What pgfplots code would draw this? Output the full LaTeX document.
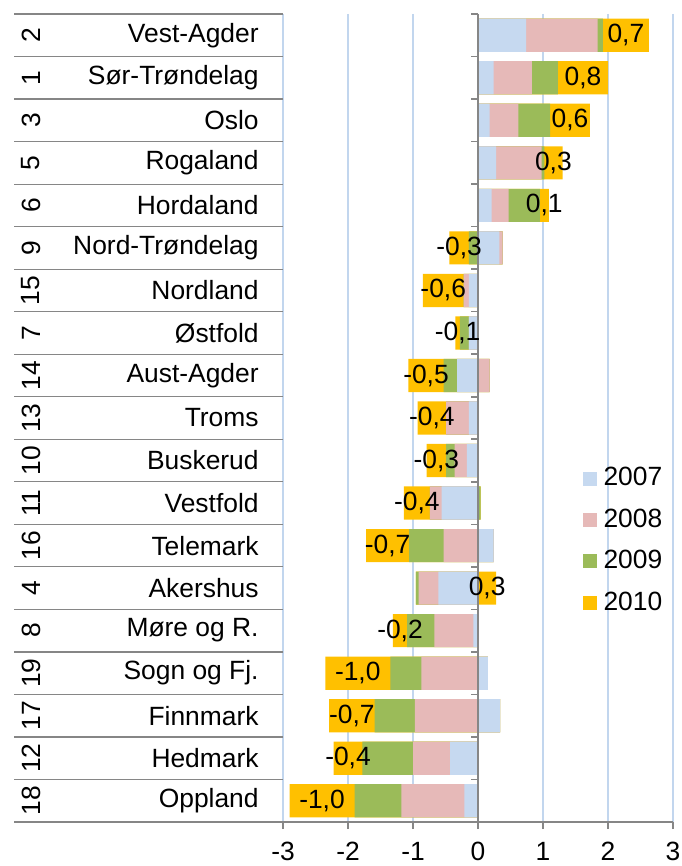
\documentclass[border=0pt]{standalone}
\usepackage{fontspec}
\setmainfont{Liberation Sans}
\usepackage{pgfplots}
\pgfplotsset{compat=1.18}
\usepackage{pgfplotstable}

\definecolor{c07}{RGB}{198,217,240}
\definecolor{c08}{RGB}{230,185,184}
\definecolor{c09}{RGB}{155,187,89}
\definecolor{c10}{RGB}{255,192,0}
\definecolor{gridblue}{RGB}{194,214,238}
\definecolor{axisgray}{RGB}{134,134,134}

% yearly change per county, top row first
\pgfplotstableread{
idx a b c d
0 0.74 1.10 0.08 0.71
1 0.24 0.59 0.40 0.77
2 0.18 0.44 0.49 0.61
3 0.28 0.70 0.04 0.28
4 0.21 0.26 0.48 0.14
5 0.33 0.05 -0.14 -0.30
6 -0.14 -0.08 0.00 -0.63
7 -0.14 0.00 -0.14 -0.07
8 -0.32 0.18 -0.21 -0.54
9 -0.14 -0.35 0.00 -0.44
10 -0.17 -0.19 -0.13 -0.30
11 -0.56 -0.18 0.04 -0.40
12 0.24 -0.53 -0.53 -0.66
13 -0.61 -0.305 -0.04 0.28
14 -0.07 -0.60 -0.42 -0.22
15 0.15 -0.87 -0.48 -1.00
16 0.34 -0.97 -0.62 -0.70
17 -0.43 -0.57 -0.78 -0.44
18 -0.21 -0.97 -0.72 -1.00
}\scores

% cumulative positive and negative stacks
\def\Pa{max(\thisrow{a},0)}
\def\Pb{\Pa+max(\thisrow{b},0)}
\def\Pc{\Pb+max(\thisrow{c},0)}
\def\Pd{\Pc+max(\thisrow{d},0)}
\def\Na{min(\thisrow{a},0)}
\def\Nb{\Na+min(\thisrow{b},0)}
\def\Nc{\Nb+min(\thisrow{c},0)}
\def\Nd{\Nc+min(\thisrow{d},0)}

\pgfplotsset{
  seg/.style={xbar, bar shift=0pt, draw=none, fill=#1},
  sq legend/.style={legend image code/.code={\fill[##1] (0pt,-3.5pt) rectangle (7pt,3.5pt);}},
}

\begin{document}
\fontsize{13.2}{15.8}\selectfont
\begin{tikzpicture}
\path[use as bounding box] (0,0) rectangle (340.5pt,433pt);
\begin{axis}[
  at={(141.5pt,22pt)}, anchor=south west,
  scale only axis, width=195pt, height=404pt,
  xmin=-3, xmax=3, ymin=-0.5, ymax=18.5, y dir=reverse,
  axis x line*=bottom, axis y line*=left,
  y axis line style={draw=none},
  x axis line style={draw=axisgray, line width=0.8pt},
  xtick={-3,...,3}, xticklabels={-3,-2,-1,0,1,2,3},
  tick align=outside, major tick length=3.5pt,
  xtick style={draw=axisgray, line width=0.8pt},
  xticklabel style={inner sep=0pt, yshift=-6.5pt},
  ytick={0,...,18},
  yticklabels={Vest-Agder,Sør-Trøndelag,Oslo,Rogaland,Hordaland,Nord-Trøndelag,Nordland,Østfold,Aust-Agder,Troms,Buskerud,Vestfold,Telemark,Akershus,Møre og R.,Sogn og Fj.,Finnmark,Hedmark,Oppland},
  ytick style={draw=none},
  yticklabel style={anchor=east, inner sep=0pt, xshift=-8.5pt},
  xmajorgrids, grid style={gridblue, line width=0.7pt},
  bar width=0.78,
  clip=false,
  reverse legend,
  legend cell align=left,
  legend style={draw=none, fill=none, at={(0.767,0.448)}, anchor=north west,
    inner sep=0pt, row sep=2.5pt, nodes={inner sep=3.5pt}},
]
\addplot[seg=c10, sq legend] table[y=idx, x expr={\Pd}]{\scores};
\addlegendentry{2010}
\addplot[seg=c10, forget plot] table[y=idx, x expr={\Nd}]{\scores};
\addplot[seg=c09, sq legend] table[y=idx, x expr={\Pc}]{\scores};
\addlegendentry{2009}
\addplot[seg=c09, forget plot] table[y=idx, x expr={\Nc}]{\scores};
\addplot[seg=c08, sq legend] table[y=idx, x expr={\Pb}]{\scores};
\addlegendentry{2008}
\addplot[seg=c08, forget plot] table[y=idx, x expr={\Nb}]{\scores};
\addplot[seg=c07, sq legend] table[y=idx, x expr={\Pa}]{\scores};
\addlegendentry{2007}
\addplot[seg=c07, forget plot] table[y=idx, x expr={\Na}]{\scores};

% zero axis with category ticks, and row separators beside the names
\draw[axisgray, line width=0.8pt] (axis cs:0,-0.5) -- (axis cs:0,18.5);
\foreach \k in {-0.5,0.5,...,18.5} {
  \edef\tmp{\noexpand\draw[axisgray, line width=0.6pt] (axis cs:-3,\k) -- ++(-134.5pt,0pt);
    \noexpand\draw[axisgray, line width=0.8pt] (axis cs:0,\k) -- ++(-3.5pt,0pt);}
  \tmp
}
% ranking numbers
\foreach \i/\r in {0/2,1/1,2/3,3/5,4/6,5/9,6/15,7/7,8/14,9/13,10/10,11/11,12/16,13/4,14/8,15/19,16/17,17/12,18/18} {
  \edef\tmp{\noexpand\node[rotate=90, inner sep=0pt] at ([xshift=-126pt]axis cs:-3,\i) {\r};}
  \tmp
}

% value of the last year, centred in its segment
\addplot[draw=none, mark=none, forget plot, point meta=\thisrow{d},
  nodes near coords={\pgfmathprintnumber[fixed,fixed zerofill,precision=1,use comma,assume math mode=true]{\pgfplotspointmeta}},
  nodes near coords style={anchor=center, inner sep=0pt, text=black}]
  table[y=idx, x expr={\thisrow{d}/2 + (\thisrow{d}>0)*(\Pc) + (\thisrow{d}<0)*(\Nc)}]{\scores};
\end{axis}
\end{tikzpicture}
\end{document}
